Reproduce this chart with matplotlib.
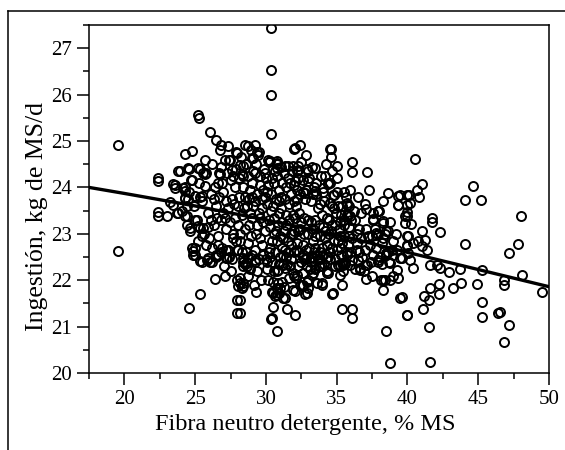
import numpy as np
import matplotlib
matplotlib.use("Agg")
import matplotlib.pyplot as plt
from matplotlib.lines import Line2D
from matplotlib.ticker import MultipleLocator

# puntos (FDN %MS, ingestion kg MS/d)
pts_izq = [
    (19.55, 24.91), (19.55, 22.62),
    (22.4, 24.2), (22.4, 24.14), (22.4, 23.46), (22.4, 23.39), (23.0, 23.39),
    (23.46, 23.63), (23.7, 23.45), (23.8, 24.35), (23.57, 24.06), (23.46, 24.07),
    (23.57, 23.99), (23.8, 23.45), (23.93, 24.35), (24.16, 23.99), (24.28, 23.77),
    (24.3, 24.0), (24.3, 23.92), (24.3, 23.78), (24.5, 23.76), (23.2, 23.69),
    (24.3, 24.71), (24.8, 24.78), (24.4, 23.6), (24.4, 23.38), (24.3, 23.38),
    (24.5, 24.42), (24.57, 24.4), (24.7, 24.17), (24.76, 24.17), (24.64, 23.12),
    (24.64, 23.07), (24.99, 23.81), (25.0, 23.29), (25.2, 23.16), (25.34, 23.12),
    (25.58, 23.12), (25.46, 23.81), (25.34, 23.8), (25.2, 24.42), (25.34, 24.4),
    (25.58, 24.31), (25.7, 24.28), (25.7, 24.02), (25.2, 25.55), (25.25, 25.5),
    (26.05, 25.2), (26.45, 25.03), (26.8, 24.91), (24.76, 22.69), (25.0, 22.69),
]
pts_alto = [
    (27.45, 24.59), (27.4, 24.58), (27.93, 24.74), (27.9, 24.76), (28.17, 24.49),
    (28.5, 24.92), (28.76, 24.9), (29.2, 24.92), (29.4, 24.76), (29.1, 24.64),
    (29.5, 24.76), (29.0, 24.64), (28.4, 24.46), (28.4, 24.24), (26.75, 24.28),
    (27.58, 24.38), (28.29, 24.28), (29.1, 24.35), (29.94, 24.31), (30.76, 24.42),
    (30.36, 27.43), (30.36, 26.53), (30.36, 25.99), (30.36, 25.16),
    (30.17, 24.6), (30.3, 24.57), (30.76, 24.53), (30.76, 24.57), (31.35, 24.46),
    (31.58, 24.46), (32.29, 24.46), (33.0, 24.35), (33.47, 24.42), (32.0, 24.82),
    (32.4, 24.92), (32.06, 24.85), (31.93, 24.46), (32.29, 24.38), (32.06, 24.14),
    (32.18, 23.95), (32.18, 23.74), (33.0, 24.14), (33.47, 23.92), (32.76, 23.88),
    (34.6, 24.82), (34.6, 24.66), (34.5, 24.83), (35.0, 24.46), (36.06, 24.54),
    (36.06, 24.33), (37.14, 24.33), (35.95, 23.95), (34.4, 24.1), (34.77, 23.84),
    (34.53, 23.66), (34.06, 23.99), (34.4, 24.07), (34.8, 23.83), (35.7, 23.66),
    (38.65, 23.87), (39.36, 23.81), (39.95, 23.84), (39.3, 23.63), (39.95, 23.63),
    (40.54, 24.61), (41.0, 24.07), (40.7, 23.95), (40.8, 23.79), (39.5, 23.84),
    (40.1, 23.83), (44.6, 24.04), (44.1, 23.73), (45.2, 23.73), (48.0, 23.38),
]
pts_denso = [
    (24.1, 23.5), (24.4, 23.2), (24.6, 23.9), (24.9, 23.6), (25.1, 23.3),
    (25.3, 24.1), (25.5, 23.7), (25.6, 23.0), (25.8, 24.3), (25.9, 23.45),
    (26.0, 22.9), (26.1, 23.85), (26.2, 24.5), (25.2, 22.85), (25.7, 24.6),
    (26.3, 23.2), (26.4, 24.0), (26.5, 23.6), (26.6, 22.95), (26.7, 24.3),
    (26.8, 23.3), (26.9, 22.7), (27.0, 23.9), (27.1, 24.6), (27.2, 23.1),
    (27.3, 23.55), (27.4, 22.5), (27.5, 24.15), (27.6, 23.75), (27.7, 22.9),
    (27.8, 23.35), (27.9, 24.4), (28.0, 22.65), (27.05, 22.3), (27.55, 22.2),
    (26.75, 24.8), (27.35, 24.9), (27.85, 24.0), (26.95, 23.45), (27.65, 23.0),
    (28.0, 23.6), (28.1, 24.2), (28.2, 23.0), (28.3, 23.4), (28.4, 22.4),
    (28.5, 23.8), (28.6, 24.5), (28.7, 22.8), (28.8, 23.2), (28.9, 23.95),
    (29.0, 22.55), (29.1, 23.6), (29.2, 24.3), (29.3, 23.0), (29.4, 22.2),
    (29.5, 23.45), (29.6, 24.05), (29.7, 22.75), (29.8, 23.25), (29.9, 23.8),
    (30.0, 22.45), (28.35, 21.95), (28.75, 22.1), (29.15, 21.9), (29.65, 22.0),
    (28.55, 23.1), (29.25, 23.7), (29.85, 24.4), (29.45, 24.7), (28.95, 24.8),
    (28.25, 24.65), (29.55, 22.9), (28.65, 23.6), (29.05, 23.35), (29.75, 23.55),
    (30.1, 23.9), (30.2, 23.3), (30.3, 22.7), (30.4, 24.2), (30.5, 23.6),
    (30.6, 22.2), (30.7, 23.05), (30.8, 24.5), (30.9, 23.45), (31.0, 22.5),
    (31.1, 23.8), (31.2, 22.9), (31.3, 24.3), (31.4, 23.2), (31.5, 22.35),
    (31.6, 23.65), (31.7, 24.1), (31.8, 22.75), (31.9, 23.4), (32.0, 22.1),
    (30.15, 22.0), (30.45, 21.75), (30.85, 21.95), (31.25, 21.85), (31.65, 22.05),
    (30.25, 24.55), (30.65, 24.35), (31.05, 24.45), (31.45, 24.0), (31.85, 24.35),
    (30.35, 23.5), (30.75, 22.85), (31.15, 23.25), (31.55, 22.6), (31.95, 23.7),
    (30.55, 23.0), (30.95, 23.7), (31.35, 22.65), (31.75, 23.0), (32.0, 23.05),
    (32.1, 23.6), (32.2, 22.8), (32.3, 24.2), (32.4, 23.1), (32.5, 22.4),
    (32.6, 23.9), (32.7, 23.35), (32.8, 22.65), (32.9, 24.4), (33.0, 23.0),
    (33.1, 22.25), (33.2, 23.7), (33.3, 22.85), (33.4, 24.0), (33.5, 23.3),
    (33.6, 22.55), (33.7, 23.55), (33.8, 22.95), (33.9, 24.25), (34.0, 23.15),
    (32.15, 22.05), (32.55, 21.9), (32.95, 22.0), (33.35, 22.15), (33.75, 22.3),
    (32.35, 23.45), (32.75, 23.75), (33.15, 23.25), (33.55, 23.85), (33.95, 22.7),
    (32.45, 24.55), (32.85, 24.7), (33.25, 24.45), (32.65, 22.55), (33.45, 22.7),
    (34.1, 23.7), (34.2, 22.9), (34.3, 23.35), (34.4, 22.5), (34.5, 24.1),
    (34.6, 23.05), (34.7, 22.7), (34.8, 23.55), (34.9, 22.3), (35.0, 23.9),
    (35.1, 22.85), (35.2, 23.25), (35.3, 22.55), (35.4, 23.6), (35.5, 22.95),
    (35.6, 22.4), (35.7, 23.4), (35.8, 22.75), (35.9, 23.15), (36.0, 22.6),
    (34.25, 24.5), (34.65, 24.35), (35.05, 24.2), (34.45, 23.0), (34.85, 23.2),
    (35.25, 22.95), (35.65, 23.8), (36.0, 23.3), (34.35, 22.15), (35.45, 22.2),
    (36.2, 23.5), (36.4, 22.8), (36.6, 23.1), (36.8, 22.5), (37.0, 23.65),
    (37.2, 22.95), (37.4, 22.4), (37.6, 23.3), (37.8, 22.7), (38.0, 23.5),
    (38.2, 22.35), (38.4, 23.0), (38.6, 22.6), (38.8, 23.25), (39.0, 22.85),
    (36.3, 22.25), (36.9, 22.2), (37.5, 22.1), (38.1, 22.0), (36.5, 23.8),
    (37.3, 23.95), (38.3, 23.7), (36.7, 22.9), (37.7, 23.1), (38.7, 22.4),
    (39.2, 23.0),
    (35.7, 23.63), (34.5, 23.66), (34.65, 23.6), (37.1, 23.53), (37.6, 23.45),
    (37.95, 23.49), (37.6, 23.3), (38.3, 23.23), (37.8, 23.02), (38.65, 23.06),
    (38.3, 22.91), (39.36, 23.63), (35.7, 23.41), (35.95, 23.38), (37.95, 23.5),
    (37.55, 23.32), (38.25, 23.27), (37.47, 22.95), (38.5, 23.05), (37.8, 22.98),
    (35.8, 23.41), (35.5, 23.3), (39.8, 23.38), (39.8, 23.23), (39.95, 22.95),
    (39.95, 22.73), (40.2, 23.66), (39.95, 23.48), (39.95, 23.38), (40.26, 23.22),
    (41.76, 23.34), (41.76, 23.25), (42.3, 23.04),
]
pts_nucleo = [
    (27.15, 23.7), (27.45, 23.25), (27.75, 23.65), (28.05, 23.2), (28.15, 22.85),
    (28.45, 23.55), (28.6, 22.6), (28.85, 23.45), (28.95, 22.95), (29.35, 23.2),
    (29.6, 23.35), (29.9, 23.05), (30.05, 23.65), (30.2, 22.6), (30.3, 23.15),
    (30.45, 22.85), (30.6, 23.35), (30.7, 23.75), (30.85, 23.2), (31.0, 22.95),
    (31.1, 23.55), (31.2, 22.55), (31.3, 23.05), (31.45, 23.4), (31.55, 22.85),
    (31.65, 23.3), (31.8, 22.45), (31.9, 23.0), (32.05, 23.35), (32.15, 22.65),
    (32.25, 23.05), (32.35, 22.6), (32.5, 23.25), (32.6, 22.75), (32.7, 23.0),
    (32.85, 22.45), (32.95, 23.3), (33.05, 22.7), (33.15, 22.5), (33.3, 23.1),
    (33.4, 22.6), (33.5, 22.95), (33.65, 22.45), (33.75, 23.2), (33.85, 22.6),
    (33.95, 23.4), (34.05, 22.55), (34.15, 23.05), (34.3, 22.75), (34.45, 23.3),
    (34.55, 22.45), (34.7, 23.2), (34.8, 22.85), (34.95, 23.45), (35.05, 22.65),
    (35.15, 23.1), (35.3, 23.4), (35.4, 22.8), (35.55, 23.2), (35.7, 22.6),
    (35.85, 22.95), (29.05, 24.1), (29.3, 24.5), (29.55, 24.25), (29.8, 23.95),
    (30.0, 24.2), (30.15, 24.05), (30.35, 23.85), (30.55, 24.1), (30.75, 24.25),
    (30.95, 23.95), (31.15, 24.1), (31.35, 23.75), (31.55, 24.2), (31.75, 23.85),
    (31.95, 24.05), (32.2, 24.35), (32.4, 23.85), (32.65, 24.15), (32.85, 23.95),
    (33.05, 24.2), (33.3, 23.85), (33.55, 24.1), (33.8, 23.65), (34.0, 23.9),
    (34.2, 24.25), (27.2, 22.65), (27.6, 22.45), (27.9, 22.85), (28.3, 22.6),
    (28.55, 22.35), (28.9, 22.25), (29.2, 22.65), (29.5, 22.45), (29.8, 22.55),
    (30.1, 22.25), (30.4, 22.4), (30.65, 22.6), (30.9, 22.35), (31.15, 22.7),
    (31.4, 22.5), (31.7, 22.3), (31.95, 22.6), (32.3, 22.3), (32.6, 22.5),
    (32.9, 22.3), (33.2, 22.4), (33.5, 22.25), (33.8, 22.45), (34.1, 22.35),
    (34.5, 22.6), (34.9, 22.45), (35.3, 22.7), (26.1, 23.3), (26.3, 23.75),
    (26.55, 23.35), (26.7, 23.8), (26.9, 24.1), (27.1, 23.35), (26.2, 22.7),
    (26.5, 22.55), (26.8, 22.6), (25.8, 22.75), (25.5, 22.95), (25.9, 23.15),
    (26.6, 24.1), (26.85, 24.45), (27.25, 24.3), (27.7, 24.25), (28.1, 23.8),
    (28.4, 24.0), (28.7, 24.25), (28.8, 23.75), (29.0, 23.8), (29.4, 23.85),
    (29.7, 23.75), (35.1, 23.6), (35.5, 23.9), (35.9, 23.6), (36.3, 23.3),
    (36.6, 22.6), (36.75, 23.45), (37.05, 23.1), (37.35, 22.75), (37.6, 22.55),
    (37.9, 23.0), (38.2, 22.8), (38.5, 22.55), (38.9, 22.65), (36.1, 22.9),
    (36.45, 23.0),
]
pts_bajo = [
    (24.87, 22.62), (24.87, 22.55), (25.0, 22.55), (25.34, 22.42), (25.46, 22.4),
    (25.82, 22.44), (25.93, 22.48), (26.05, 22.4), (26.17, 22.4), (26.5, 22.5),
    (26.64, 22.55), (27.2, 22.48), (27.23, 22.48), (27.3, 22.66), (27.34, 22.66),
    (27.94, 22.66), (26.6, 22.76), (26.4, 22.03), (27.1, 22.08), (27.94, 22.0),
    (28.05, 21.88), (28.3, 21.83), (27.94, 21.58), (27.94, 21.29), (25.34, 21.7),
    (24.57, 21.41), (28.4, 22.3), (28.64, 22.37), (28.76, 22.48), (29.23, 22.44),
    (30.05, 22.4), (30.29, 22.51), (30.76, 22.19), (31.23, 22.33), (31.93, 22.15),
    (32.64, 22.15), (33.35, 22.48), (33.94, 22.3), (34.41, 22.15), (35.23, 22.33),
    (35.47, 22.33), (36.65, 22.26), (37.12, 22.33), (37.95, 22.4), (38.77, 22.37),
    (39.5, 22.48), (40.07, 22.58), (28.17, 21.58), (28.17, 21.3), (28.17, 21.94),
    (29.3, 21.74), (28.17, 22.04), (28.4, 21.87), (28.64, 22.3), (28.4, 22.48),
    (29.23, 22.4), (30.52, 21.97), (30.76, 21.83), (31.11, 21.97),
    (30.88, 22.22), (31.35, 22.26), (32.17, 22.12), (31.93, 21.79), (32.4, 21.9),
    (33.0, 21.83), (32.88, 21.97), (33.23, 22.12), (33.94, 21.94), (33.82, 22.3),
    (34.3, 22.19), (35.23, 22.12), (35.11, 22.33), (35.35, 22.37), (35.94, 22.33),
    (36.06, 22.44), (35.7, 22.55), (36.65, 22.22), (37.0, 22.33), (36.53, 22.44),
    (37.0, 22.66), (36.4, 22.66), (38.5, 22.58), (39.0, 22.55), (37.95, 22.44),
    (38.07, 22.51), (39.25, 22.22), (39.0, 22.08), (38.77, 22.0), (38.3, 22.0),
    (30.77, 21.83), (30.9, 21.72), (31.23, 21.61), (30.64, 21.65), (32.06, 21.77),
    (32.76, 21.7), (33.6, 21.94), (33.93, 21.9), (34.7, 21.7), (35.35, 21.9),
    (35.6, 22.35), (37.1, 22.03), (38.3, 21.79),
    (38.4, 22.0), (39.5, 21.61), (39.36, 22.04),
    (30.4, 21.18), (30.5, 21.42), (31.46, 21.37), (32.05, 21.24), (30.36, 21.17),
    (30.8, 20.91), (30.52, 21.72), (30.76, 21.68), (31.35, 21.61), (30.99, 21.83),
    (32.88, 21.72), (32.64, 21.9), (34.76, 21.72), (35.35, 21.37), (36.06, 21.37),
    (36.06, 21.18), (38.5, 20.91), (38.77, 20.21), (39.6, 21.63), (39.95, 21.25),
]
pts_der = [
    (41.0, 23.05), (41.25, 22.87), (40.77, 22.84), (41.0, 22.73), (41.36, 22.66),
    (40.07, 22.95), (39.95, 22.76), (40.42, 22.8), (39.25, 22.66), (39.6, 22.48),
    (40.2, 22.44), (40.4, 22.26), (41.6, 22.33),
    (42.07, 22.33), (42.3, 22.26), (42.9, 22.17), (43.7, 22.24), (45.3, 22.21),
    (46.8, 22.0), (46.8, 21.9), (48.1, 22.12), (49.5, 21.74), (44.1, 22.79),
    (47.84, 22.79), (47.2, 22.58), (41.6, 21.83), (42.2, 21.91), (42.2, 21.71),
    (41.2, 21.66), (41.5, 21.58), (41.1, 21.38), (40.0, 21.24),
    (43.25, 21.83), (43.8, 21.95), (44.9, 21.91), (45.3, 21.54), (45.3, 21.2),
    (46.4, 21.29), (46.55, 21.32), (47.2, 21.04), (46.8, 20.66), (41.5, 21.0),
    (41.6, 20.24),
]

# curva de regresion
fdn_curva = [17.5, 20, 25, 30, 35, 40, 45, 50]
ing_curva = [24.0, 23.87, 23.6, 23.3, 22.98, 22.6, 22.23, 21.86]

puntos = np.array(pts_izq + pts_alto + pts_denso + pts_nucleo + pts_bajo + pts_der)

plt.rcParams["font.family"] = "Liberation Serif"

fig = plt.figure(figsize=(5.65, 4.5), dpi=100)
ax = fig.add_axes([89 / 565, 1 - 373 / 450, 460 / 565, 348 / 450])

ax.plot(puntos[:, 0], puntos[:, 1], "o", mfc="none", mec="black",
        ms=6.5, mew=1.4, zorder=2)
ax.plot(fdn_curva, ing_curva, color="black", lw=2.4, zorder=3)

ax.set_xlim(17.5, 50)
ax.set_ylim(20, 27.5)
ax.xaxis.set_major_locator(MultipleLocator(5))
ax.xaxis.set_minor_locator(MultipleLocator(2.5))
ax.yaxis.set_major_locator(MultipleLocator(1))
ax.yaxis.set_minor_locator(MultipleLocator(0.5))
ax.tick_params(which="major", direction="out", length=8.5, width=1.1,
               labelsize=15, pad=4)
ax.tick_params(which="minor", direction="out", length=4.3, width=1.1)
for s in ax.spines.values():
    s.set_linewidth(1.1)

ax.set_xlabel("Fibra neutro detergente, % MS", fontsize=17.5)
ax.set_ylabel("Ingestión, kg de MS/d", fontsize=18.5)
ax.xaxis.set_label_coords(0.47, -0.117)
ax.yaxis.set_label_coords(-0.09, 0.45)

# marco exterior (solo lados visibles)
fig.add_artist(Line2D([8 / 565, 8 / 565], [0, 1 - 11 / 450],
                      transform=fig.transFigure, color="black", lw=1.1))
fig.add_artist(Line2D([8 / 565, 1], [1 - 11 / 450, 1 - 11 / 450],
                      transform=fig.transFigure, color="black", lw=1.1))

fig.savefig("out.png", dpi=100)
